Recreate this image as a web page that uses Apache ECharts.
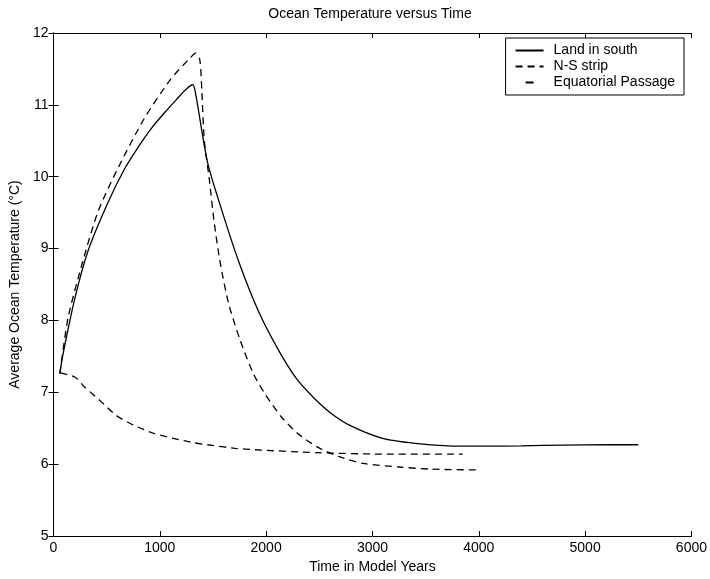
<!DOCTYPE html>
<html><head><meta charset="utf-8">
<script src="https://cdn.jsdelivr.net/npm/echarts@6/dist/echarts.min.js"></script>
<style>html,body{margin:0;padding:0;background:#fff}#c{width:710px;height:579px}</style>
</head><body><div id="c"></div>
<script>
const title = "Ocean Temperature versus Time";
const xName = "Time in Model Years";
const yName = "Average Ocean Temperature (°C)";
const seriesNames = ["Land in south", "N-S strip", "Equatorial Passage"];

const landX = [60, 83, 200, 323, 500, 665, 800, 914, 1050, 1154, 1250, 1311, 1341, 1449, 1588, 1742, 1927, 2111, 2280, 2450, 2600, 2788, 3095, 3403, 3711, 4000, 4400, 4800, 5200, 5500];
const landY = [7.26, 7.48, 8.3, 8.96, 9.6, 10.1, 10.42, 10.66, 10.9, 11.07, 11.22, 11.28, 11.12, 10.2, 9.51, 8.82, 8.13, 7.6, 7.2, 6.92, 6.72, 6.54, 6.36, 6.29, 6.255, 6.25, 6.255, 6.265, 6.27, 6.27];

const nsX = [60, 138, 266, 418, 600, 850, 1099, 1283, 1339, 1376, 1395, 1419, 1465, 1511, 1572, 1650, 1757, 1880, 1988, 2142, 2295, 2480, 2695, 2911, 3249, 3557, 3972];
const nsY = [7.26, 8.04, 8.77, 9.51, 10.1, 10.8, 11.35, 11.65, 11.72, 11.63, 11.2, 10.5, 9.97, 9.37, 8.77, 8.22, 7.72, 7.26, 6.98, 6.66, 6.43, 6.24, 6.1, 6.01, 5.96, 5.93, 5.92];

const eqX = [65, 203, 295, 434, 588, 757, 942, 1126, 1311, 1495, 1711, 1895, 2480, 3095, 3849];
const eqY = [7.27, 7.21, 7.07, 6.89, 6.68, 6.54, 6.43, 6.36, 6.3, 6.26, 6.22, 6.2, 6.16, 6.14, 6.14];

const xTicks = [0, 1000, 2000, 3000, 4000, 5000, 6000];
const yTicks = [5, 6, 7, 8, 9, 10, 11, 12];

const zip = (xs, ys) => xs.map((x, i) => [x, ys[i]]);
const font = "'Liberation Sans', Arial, sans-serif";
const axisCommon = {
  axisLine: {show: true, lineStyle: {color: '#000', width: 1}},
  axisTick: {show: true, inside: true, length: 5, lineStyle: {color: '#000'}},
  splitLine: {show: false},
};
const xBase = {type: 'value', min: xTicks[0], max: xTicks[xTicks.length - 1], interval: xTicks[1] - xTicks[0]};
const yBase = {type: 'value', min: yTicks[0], max: yTicks[yTicks.length - 1], interval: yTicks[1] - yTicks[0]};
const chart = echarts.init(document.getElementById('c'));
chart.setOption({
  animation: false,
  backgroundColor: '#fff',
  title: {text: title, left: 370, textAlign: 'center', top: 7, padding: 0,
    textStyle: {fontFamily: font, fontSize: 14, fontWeight: 'normal', color: '#000'}},
  grid: {left: 47, right: 17, top: 33, bottom: 39, containLabel: false},
  legend: {
    data: [
      {name: seriesNames[0]},
      {name: seriesNames[1]},
      {name: seriesNames[2], lineStyle: {type: [8, 30], dashOffset: 28}}
    ],
    orient: 'vertical', right: 26, top: 38,
    backgroundColor: '#fff', borderColor: '#000', borderWidth: 1, padding: [5, 9, 5, 9],
    itemWidth: 28, itemHeight: 10, itemGap: 1,
    itemStyle: {opacity: 0},
    textStyle: {fontFamily: font, fontSize: 14, color: '#000', lineHeight: 15, padding: [0, 0, 0, 5]}
  },
  xAxis: [
    Object.assign({}, xBase, {name: xName, nameLocation: 'middle', nameGap: 24,
      nameTextStyle: {fontFamily: font, fontSize: 14, color: '#000'},
      axisLabel: {fontFamily: font, fontSize: 14, color: '#000', margin: 5, formatter: v => String(v)}}, axisCommon),
    Object.assign({}, xBase, {position: 'top', axisLabel: {show: false}}, axisCommon)
  ],
  yAxis: [
    Object.assign({}, yBase, {name: yName, nameLocation: 'middle', nameGap: 23,
      nameTextStyle: {fontFamily: font, fontSize: 14, color: '#000'},
      axisLabel: {fontFamily: font, fontSize: 14, color: '#000', margin: 5}}, axisCommon),
    Object.assign({}, yBase, {position: 'right', axisLabel: {show: false}}, axisCommon)
  ],
  series: [
    {name: seriesNames[0], type: 'line', data: zip(landX, landY), symbol: 'none', smooth: 0.25,
      lineStyle: {color: '#000', width: 1.3, type: 'solid'}, itemStyle: {color: '#000', opacity: 0}},
    {name: seriesNames[1], type: 'line', data: zip(nsX, nsY), symbol: 'none', smooth: 0.25,
      lineStyle: {color: '#000', width: 1.3, type: [7, 5]}, itemStyle: {color: '#000', opacity: 0}},
    {name: seriesNames[2], type: 'line', data: zip(eqX, eqY), symbol: 'none', smooth: 0.25,
      lineStyle: {color: '#000', width: 1.3, type: [7, 5]}, itemStyle: {color: '#000', opacity: 0}}
  ]
});
</script></body></html>
